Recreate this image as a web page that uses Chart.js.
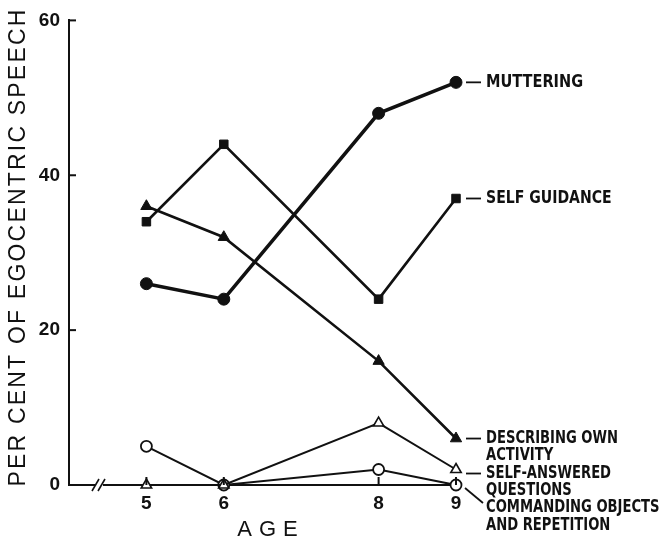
<!DOCTYPE html>
<html>
<head>
<meta charset="utf-8">
<script src="https://cdn.jsdelivr.net/npm/chart.js@4.4.1/dist/chart.umd.min.js"></script>
<style>
  html, body { margin: 0; padding: 0; background: #fff; }
  #wrap { width: 665px; height: 539px; }
</style>
</head>
<body>
<div id="wrap"><canvas id="chart" width="665" height="539"></canvas></div>
<script>
// =============================
// DATOS
// =============================
const ages = [5, 6, 8, 9];
const yTicks = [0, 20, 40, 60];

const muttering = [26, 24, 48, 52];
const selfGuidance = [34, 44, 24, 37];
const describing = [36, 32, 16, 6];
const selfAnswered = [0, 0, 8, 2];
const commanding = [5, 0, 2, 0];

const seriesNames = [
  ["MUTTERING"],
  ["SELF GUIDANCE"],
  ["DESCRIBING OWN", "ACTIVITY"],
  ["SELF-ANSWERED", "QUESTIONS"],
  ["COMMANDING OBJECTS", "AND REPETITION"]
];

const yTitle = "PER CENT OF EGOCENTRIC SPEECH";
const xTitle = "AGE";

// =============================
// UTILIDADES
// =============================
function puntos(valores) {
  return ages.map((a, i) => ({ x: a, y: valores[i] }));
}

const INK = "#111";
const LABEL_FONT = "bold 17px 'Liberation Sans Narrow', 'DejaVu Sans Condensed', sans-serif";
const TICK_FONT = { family: "'Liberation Sans', Arial, sans-serif", size: 19, weight: "bold" };

// etiquetas a la derecha: desplazamiento vertical, conector y compresión
const labelStyle = [
  { dy: 0, link: "dash", sx: 0.95 },
  { dy: 0, link: "dash", sx: 0.92 },
  { dy: 0, link: "dash", sx: 0.86 },
  { dy: 4, link: "dash", sx: 0.86 },
  { dy: 23, link: "diag", sx: 0.86 }
];

const decoraciones = {
  id: "decoraciones",
  afterDraw(chart) {
    const ctx = chart.ctx;
    const area = chart.chartArea;
    const xs = chart.scales.x;
    const ys = chart.scales.y;
    ctx.save();
    ctx.strokeStyle = INK;
    ctx.fillStyle = INK;

    // ticks hacia adentro (eje y)
    ctx.lineWidth = 2;
    yTicks.forEach(v => {
      if (v === 0) return;
      const y = ys.getPixelForValue(v);
      ctx.beginPath();
      ctx.moveTo(area.left, y);
      ctx.lineTo(area.left + 7, y);
      ctx.stroke();
    });
    // ticks hacia adentro (eje x)
    ages.forEach(a => {
      const x = xs.getPixelForValue(a);
      ctx.beginPath();
      ctx.moveTo(x, area.bottom);
      ctx.lineTo(x, area.bottom - 8);
      ctx.stroke();
    });

    // corte del eje "//"
    const bx = 98, by = area.bottom;
    ctx.fillStyle = "#fff";
    ctx.fillRect(bx - 3, by - 3, 8, 6);
    ctx.fillStyle = INK;
    ctx.lineWidth = 1.6;
    [-2, 4].forEach(o => {
      ctx.beginPath();
      ctx.moveTo(bx + o - 4, by + 6);
      ctx.lineTo(bx + o + 3, by - 6);
      ctx.stroke();
    });

    // título eje y
    ctx.save();
    ctx.translate(19, 247);
    ctx.rotate(-Math.PI / 2);
    ctx.font = "23px 'Liberation Sans', Arial, sans-serif";
    ctx.letterSpacing = "2.2px";
    ctx.textAlign = "center";
    ctx.textBaseline = "middle";
    ctx.fillText(yTitle, 0, 0);
    ctx.restore();

    // título eje x
    ctx.save();
    ctx.font = "22px 'Liberation Sans', Arial, sans-serif";
    ctx.letterSpacing = "7px";
    ctx.textAlign = "center";
    ctx.textBaseline = "middle";
    ctx.fillText(xTitle, 271, 530);
    ctx.restore();

    // etiquetas de series
    ctx.font = LABEL_FONT;
    ctx.textAlign = "left";
    ctx.textBaseline = "middle";
    ctx.lineWidth = 1.8;
    chart.data.datasets.forEach((ds, i) => {
      const meta = chart.getDatasetMeta(i);
      const last = meta.data[meta.data.length - 1];
      const st = labelStyle[i];
      const y0 = last.y + st.dy;
      const tx = last.x + 30;
      if (st.link === "dash") {
        ctx.beginPath();
        ctx.moveTo(last.x + 10, y0);
        ctx.lineTo(last.x + 25, y0);
        ctx.stroke();
      } else {
        ctx.beginPath();
        ctx.moveTo(last.x + 9, last.y + 3);
        ctx.lineTo(last.x + 27, last.y + 18);
        ctx.stroke();
      }
      seriesNames[i].forEach((t, k) => {
        ctx.save();
        ctx.translate(tx, y0 + k * 17.5);
        ctx.scale(st.sx, 1);
        ctx.fillText(t, 0, 0);
        ctx.restore();
      });
    });
    ctx.restore();
  }
};

// =============================
// GRÁFICO
// =============================
const base = {
  borderColor: INK,
  pointBorderColor: INK,
  pointBackgroundColor: INK,
  tension: 0,
  clip: false
};

new Chart(document.getElementById("chart"), {
  type: "line",
  data: {
    datasets: [
      { ...base, label: "Muttering", data: puntos(muttering), borderWidth: 3.5,
        pointStyle: "circle", pointRadius: 6, pointBorderWidth: 1 },
      { ...base, label: "Self guidance", data: puntos(selfGuidance), borderWidth: 2.6,
        pointStyle: "rect", pointRadius: 6, pointBorderWidth: 1 },
      { ...base, label: "Describing own activity", data: puntos(describing), borderWidth: 2.6,
        pointStyle: "triangle", pointRadius: 6.5, pointBorderWidth: 1 },
      { ...base, label: "Self-answered questions", data: puntos(selfAnswered), borderWidth: 2,
        pointStyle: "triangle", pointRadius: 6, pointBorderWidth: 1.6, pointBackgroundColor: "#fff" },
      { ...base, label: "Commanding objects and repetition", data: puntos(commanding), borderWidth: 2,
        pointStyle: "circle", pointRadius: 5.5, pointBorderWidth: 1.8, pointBackgroundColor: "#fff" }
    ]
  },
  options: {
    responsive: false,
    animation: false,
    events: [],
    layout: { padding: { top: 18, right: 209, left: 0, bottom: 0 } },
    plugins: {
      legend: { display: false },
      tooltip: { enabled: false }
    },
    scales: {
      x: {
        type: "linear",
        min: 4,
        max: 9,
        afterBuildTicks: s => { s.ticks = ages.map(v => ({ value: v })); },
        afterFit: s => { s.height = 54; },
        grid: { display: false, drawTicks: false },
        border: { display: true, color: INK, width: 2 },
        ticks: {
          color: INK,
          padding: 7,
          autoSkip: false,
          maxRotation: 0,
          font: TICK_FONT
        }
      },
      y: {
        min: 0,
        max: 60,
        afterBuildTicks: s => { s.ticks = yTicks.map(v => ({ value: v })); },
        afterFit: s => { s.width = 69; },
        grid: { display: false, drawTicks: false },
        border: { display: true, color: INK, width: 2 },
        ticks: {
          color: INK,
          padding: 9,
          font: TICK_FONT
        }
      }
    }
  },
  plugins: [decoraciones]
});
</script>
</body>
</html>
